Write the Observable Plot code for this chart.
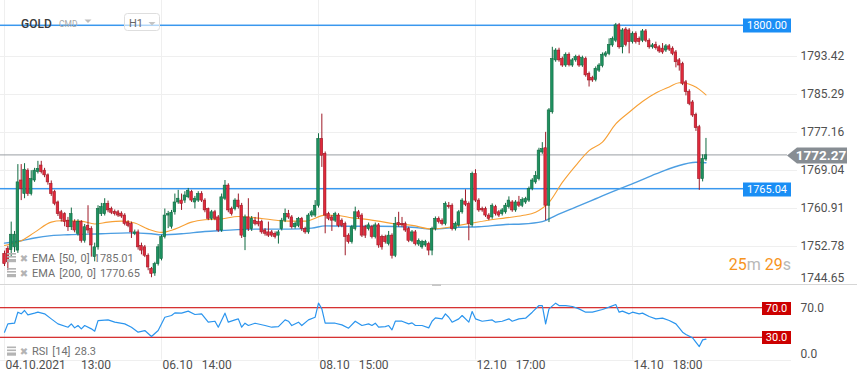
<!DOCTYPE html>
<html><head><meta charset="utf-8">
<script src="https://cdn.jsdelivr.net/npm/d3@7"></script>
<script src="https://cdn.jsdelivr.net/npm/@observablehq/plot@0.6"></script>
<style>
body{margin:0;background:#fff;font-family:Roboto,sans-serif;}
#wrap{position:relative;width:859px;height:385px;overflow:hidden;background:#fff}
#wrap svg{display:block}
</style></head><body><div id="wrap"></div>
<script>
// ---- data (hourly candles, index 0 = 04.10.2021 13:00) ----
const open = [1751.2,1752.3,1752.0,1752.6,1751.9,1766.9,1764.0,1769.0,1764.0,1766.9,1768.7,1770.1,1769.0,1768.0,1766.2,1764.4,1762.2,1760.1,1759.7,1758.3,1756.9,1758.0,1755.5,1758.0,1754.0,1757.2,1756.5,1750.5,1752.6,1759.7,1759.7,1761.9,1760.8,1760.2,1760.1,1759.8,1759.4,1757.9,1757.6,1755.5,1755.8,1752.9,1752.6,1750.8,1748.0,1747.0,1749.0,1750.1,1754.8,1759.4,1757.0,1760.1,1762.2,
1762.6,1762.6,1763.3,1764.4,1762.2,1762.6,1764.0,1762.6,1760.8,1758.7,1760.1,1759.0,1756.2,1763.0,1765.8,1760.8,1760.8,1762.6,1761.5,1754.8,1759.0,1756.5,1758.3,1758.0,1758.0,1756.2,1755.8,1755.8,1755.5,1755.1,1756.5,1758.3,1759.7,1759.0,1756.9,1757.2,1758.7,1756.5,1755.8,1759.4,1759.4,1761.5,1775.8,1772.6,1759.7,1759.0,1758.3,1759.4,1758.3,1757.6,1755.1,
1753.7,1756.5,1760.1,1759.4,1756.9,1756.5,1756.9,1754.8,1757.3,1754.8,1754.8,1753.3,1755.1,1750.8,1757.8,1757.6,1757.6,1756.5,1754.0,1755.8,1753.2,1752.6,1753.0,1753.3,1751.9,1756.5,1758.7,1758.3,1757.6,1761.5,1761.5,1756.5,1757.3,1760.1,1762.4,1761.9,1757.3,1768.3,1762.6,1760.8,1760.8,1759.4,1759.0,1761.2,1760.1,1759.7,1760.1,1761.2,1762.2,1760.5,1762.2,1761.5,
1762.2,1762.6,1765.1,1766.5,1767.2,1772.9,1773.8,1761.5,1781.5,1792.6,1794.7,1792.9,1791.5,1793.8,1791.5,1792.6,1793.3,1791.5,1792.9,1789.7,1788.8,1788.4,1790.4,1791.4,1793.6,1794.0,1795.8,1796.8,1800.1,1795.4,1799.2,1799.0,1796.5,1798.3,1797.2,1796.8,1798.8,1796.8,1795.4,1795.9,1795.4,1795.1,1794.7,1795.6,1795.1,1794.3,1792.6,1791.8,1787.9,1785.9,1783.6,1780.9,1778.3,1767.2,1771.4];
const high = [1751.8,1752.8,1758.0,1756.0,1770.3,1770.3,1770.5,1769.4,1769.0,1769.5,1771.0,1771.0,1769.5,1768.3,1766.8,1764.8,1762.5,1760.5,1760.0,1759.0,1761.0,1758.5,1758.5,1758.3,1757.5,1761.5,1757.0,1753.5,1761.5,1762.0,1763.0,1762.5,1761.2,1760.6,1760.5,1760.2,1759.8,1758.3,1758.0,1756.3,1756.3,1753.5,1753.0,1751.2,1748.3,1749.4,1753.2,1755.2,1760.8,1760.3,1760.5,1764.0,1764.8,
1764.0,1764.5,1765.2,1764.8,1763.5,1764.5,1764.5,1763.0,1761.0,1760.5,1760.5,1759.4,1764.0,1766.9,1766.2,1761.2,1763.0,1764.0,1762.0,1759.5,1763.0,1759.2,1759.0,1760.0,1758.4,1756.6,1758.0,1756.2,1755.9,1756.2,1758.8,1760.8,1760.5,1759.4,1758.0,1759.0,1759.0,1756.9,1759.8,1760.5,1762.6,1776.9,1781.1,1773.0,1760.1,1759.4,1760.1,1759.8,1758.7,1758.0,1755.5,
1757.3,1761.2,1760.5,1759.8,1757.3,1757.8,1757.3,1757.8,1757.7,1755.2,1755.2,1756.0,1755.5,1759.0,1760.1,1759.0,1758.0,1756.9,1756.2,1756.2,1754.4,1754.1,1754.1,1753.7,1756.9,1759.1,1759.1,1758.7,1762.3,1762.2,1761.9,1758.0,1760.5,1763.0,1764.9,1762.3,1768.7,1769.2,1763.0,1761.2,1761.2,1759.8,1761.9,1761.6,1760.5,1760.9,1762.0,1763.4,1762.6,1762.6,1763.5,1763.2,
1763.3,1765.5,1767.3,1768.8,1773.8,1775.0,1777.2,1782.3,1795.4,1795.1,1795.2,1793.3,1794.2,1794.2,1793.0,1793.7,1793.7,1793.5,1793.3,1790.1,1789.2,1791.2,1791.9,1794.2,1794.5,1797.2,1797.6,1800.5,1800.5,1799.4,1799.6,1799.4,1798.7,1798.7,1797.6,1799.2,1799.2,1797.2,1796.2,1796.5,1795.8,1796.2,1796.0,1796.0,1795.5,1794.7,1793.0,1792.2,1788.3,1786.3,1784.0,1781.3,1778.7,1772.4,1775.9];
const low = [1748.5,1747.6,1750.5,1751.5,1751.3,1762.6,1763.0,1763.5,1763.6,1766.5,1768.3,1768.3,1767.5,1765.9,1763.5,1761.5,1759.2,1758.0,1757.0,1756.0,1756.2,1755.7,1755.0,1753.5,1753.5,1755.5,1750.5,1749.5,1752.0,1759.2,1759.3,1760.0,1759.6,1759.3,1759.0,1758.8,1757.2,1756.8,1754.5,1755.1,1752.0,1751.0,1750.4,1747.6,1746.1,1746.4,1748.6,1749.7,1754.4,1756.6,1756.5,1759.5,1761.8,
1760.5,1762.0,1763.0,1762.2,1760.8,1762.2,1762.2,1760.0,1758.3,1758.3,1758.3,1755.8,1755.8,1762.6,1760.0,1759.3,1760.4,1760.8,1754.5,1751.9,1756.0,1756.0,1757.2,1757.0,1755.4,1755.0,1754.7,1754.7,1754.4,1753.3,1756.1,1757.9,1758.6,1756.5,1756.5,1756.8,1756.0,1755.4,1755.4,1759.0,1759.0,1761.0,1769.7,1755.5,1758.3,1756.0,1757.9,1756.8,1756.8,1750.8,1753.3,
1753.3,1756.1,1758.6,1754.7,1754.5,1756.1,1754.4,1754.4,1752.4,1752.0,1753.3,1752.9,1750.1,1750.4,1756.9,1756.9,1755.8,1753.6,1753.6,1752.9,1752.8,1752.2,1752.6,1750.8,1750.8,1756.1,1757.6,1757.2,1757.2,1760.8,1756.1,1756.1,1756.9,1759.7,1761.3,1754.0,1756.9,1762.2,1760.1,1760.1,1759.0,1758.3,1758.6,1759.3,1759.0,1759.3,1759.7,1760.8,1760.1,1760.1,1761.1,1761.1,
1761.8,1762.2,1764.7,1766.1,1766.8,1772.5,1758.3,1757.9,1781.1,1792.2,1792.2,1791.1,1791.1,1791.2,1791.1,1792.2,1791.1,1791.1,1789.0,1786.9,1787.9,1788.0,1790.0,1791.0,1793.2,1793.6,1795.4,1796.4,1795.0,1794.0,1795.5,1794.0,1796.1,1796.1,1795.8,1796.4,1796.4,1795.0,1795.0,1794.8,1794.1,1793.9,1794.3,1794.5,1793.6,1791.0,1790.3,1787.2,1785.0,1782.9,1780.4,1777.4,1764.8,1766.6,1771.0];
const close = [1749.0,1749.4,1755.3,1755.3,1766.5,1765.1,1769.2,1764.0,1767.2,1769.0,1769.4,1768.7,1768.0,1766.5,1764.0,1761.9,1759.7,1758.7,1758.0,1756.9,1759.7,1756.2,1758.0,1754.0,1756.9,1756.2,1753.0,1752.6,1760.8,1761.2,1761.9,1760.5,1760.0,1759.7,1759.4,1759.2,1757.6,1757.2,1755.8,1755.8,1752.6,1751.9,1750.8,1748.3,1746.9,1749.0,1752.6,1754.8,1759.4,1759.7,1760.0,1762.2,1763.0,
1761.9,1763.7,1764.7,1762.6,1763.0,1764.0,1762.6,1760.5,1758.7,1760.1,1758.7,1756.2,1763.3,1765.8,1760.5,1759.7,1762.6,1761.2,1755.1,1759.0,1756.5,1758.7,1757.6,1757.5,1755.8,1755.5,1755.1,1755.1,1754.8,1755.8,1758.3,1759.7,1759.0,1756.9,1757.6,1758.7,1756.5,1755.8,1759.4,1760.1,1761.5,1775.8,1772.2,1759.4,1758.7,1758.3,1759.7,1757.2,1757.2,1754.8,1753.7,
1756.9,1760.1,1759.0,1755.1,1755.1,1757.3,1754.8,1757.3,1753.0,1752.6,1753.7,1755.1,1750.8,1757.6,1757.3,1757.3,1756.2,1754.0,1755.8,1753.3,1754.0,1753.7,1753.7,1751.9,1756.5,1758.7,1758.0,1757.6,1761.9,1761.2,1756.5,1757.6,1760.1,1762.6,1761.7,1757.6,1768.3,1762.6,1760.5,1760.5,1759.4,1758.7,1761.5,1759.7,1759.4,1760.5,1761.5,1762.6,1760.5,1762.2,1761.5,1762.7,
1762.9,1765.1,1766.9,1767.9,1773.3,1773.6,1761.5,1781.9,1792.9,1794.7,1792.6,1791.5,1793.8,1791.6,1792.6,1793.3,1791.5,1793.1,1789.4,1788.3,1788.3,1790.8,1791.5,1793.8,1794.1,1795.9,1797.2,1800.1,1795.4,1799.0,1795.9,1796.5,1798.3,1796.5,1796.5,1798.8,1796.8,1795.4,1795.8,1795.2,1794.5,1794.3,1795.6,1794.9,1794.0,1792.2,1791.5,1787.6,1785.8,1783.3,1780.8,1778.1,1767.2,1771.5,1772.3];

// EMA readings (candle index, value)
const ema50Idx = [0,5,9,14,17,23,27,31,35,39,43,47,51,56,60,65,70,75,80,85,90,96,100,104,107,112,117,122,128,132,136,140,144,150,155,159,163,167,171,175,179,183,187,191,195,199,202,204,206,208,210];
const ema50Val = [1753.0,1754.0,1755.8,1758.0,1758.3,1758.2,1757.6,1758.0,1758.2,1757.8,1756.5,1755.8,1756.5,1758.0,1758.5,1758.7,1759.2,1758.9,1758.5,1758.2,1758.2,1759.5,1759.4,1758.9,1758.7,1758.2,1757.6,1757.3,1756.5,1756.8,1757.3,1757.8,1758.3,1758.9,1759.4,1760.1,1762.2,1766.5,1770.1,1773.3,1775.1,1779.0,1781.5,1783.8,1785.6,1786.9,1787.8,1787.7,1787.2,1786.4,1785.2];
const ema200Idx = [0,5,9,14,19,29,37,44,47,53,60,65,75,85,92,96,104,112,122,128,136,142,150,155,161,165,171,177,183,189,195,201,207,210];
const ema200Val = [1753.5,1754.0,1754.6,1755.1,1755.3,1755.5,1755.7,1755.5,1755.3,1755.5,1756.0,1756.2,1756.5,1756.5,1756.7,1757.2,1757.1,1757.1,1756.9,1756.5,1756.9,1757.0,1757.5,1757.6,1758.1,1759.4,1761.2,1763.0,1764.8,1766.5,1768.3,1769.9,1770.8,1770.7];

// RSI readings (candle index, value)
const rsiIdx = [0,1,3,4,5,6,7,9,10,12,14,16,19,20,21,22,23,24,26,27,28,31,33,36,38,40,42,44,46,48,50,51,53,55,57,59,61,63,64,66,67,69,70,71,72,73,75,78,80,82,84,85,86,88,89,91,93,94,95,96,99,101,103,105,107,109,110,111,112,114,115,116,117,119,121,122,123,125,127,128,129,131,132,133,134,136,137,139,140,141,143,146,147,149,151,152,154,156,158,160,161,162,163,165,166,168,170,172,174,176,179,181,183,184,185,187,188,190,191,193,195,197,199,201,203,204,206,208,209,210];
const rsiVal = [37.6,48.8,49.7,64.6,62.4,66.9,61.0,63.3,64.6,62.4,55.6,48.8,44.3,48.8,43.4,46.6,42.1,46.6,42.1,38.9,53.3,54.2,51.1,48.8,44.3,37.6,39.8,31.7,39.8,57.8,60.1,63.7,63.3,66.0,61.5,62.4,51.1,52.4,44.3,63.3,51.1,54.2,55.6,44.3,49.7,46.6,49.7,46.6,44.3,45.2,54.2,52.4,46.6,51.1,46.6,54.2,57.8,76.8,69.1,49.7,49.7,47.5,43.0,52.4,46.6,48.8,46.6,49.7,44.3,45.2,46.6,40.7,52.4,52.4,48.8,50.2,46.6,46.6,43.4,52.4,56.9,55.6,62.4,57.8,51.1,55.6,60.1,51.1,65.5,55.6,52.4,54.2,51.1,52.4,55.6,52.4,55.6,56.5,64.6,73.6,73.6,48.8,69.1,76.8,73.6,73.6,72.3,69.1,64.6,64.6,68.2,71.4,75.0,64.6,66.0,62.4,64.6,62.4,63.3,58.8,55.6,56.5,53.3,48.8,37.6,34.4,29.9,18.2,27.2,28.3];

// axes / levels / labels
const priceTicks = [1793.42,1785.29,1777.16,1769.04,1760.91,1752.78];
const priceBottom = 1744.65;
const timeTickIdx = [0,47,94,141,188];
const timeTickLabels = ["04.10.2021\u2003 13:00","06.10\u2002 14:00","08.10\u2002 15:00","12.10\u2002 17:00","14.10\u2002 18:00"];
const levelHigh = 1800.00, levelLow = 1765.04, lastPrice = 1772.27;
const rsiLevels = [70, 30];
const rsiLast = 28.3, ema50Last = 1785.01, ema200Last = 1770.65;
const symbol = "GOLD", market = "CMD", timeframe = "H1";
const timerMin = "25", timerSec = "29";

// ---- build ----
const candles = close.map((c, i) => ({i, o: open[i], c, h: Math.max(high[i], open[i], c), l: Math.min(low[i], open[i], c), up: c >= open[i]}));
const ema50 = ema50Idx.map((i, k) => ({i, v: ema50Val[k]}));
const ema200 = ema200Idx.map((i, k) => ({i, v: ema200Val[k]}));
const rsi = rsiIdx.map((i, k) => ({i, v: rsiVal[k]}));

const W = 859, MR = 62;
const xDomain = [-1.2, 237.4];
const GREEN = "#1e9160", GREEN_D = "#0f6a40", RED = "#e0293b", RED_D = "#9e1a27";
const BLUE = "#3a98ee", GRID = "#efefef";
const FONT = "Roboto, sans-serif";

const fmark = (fn) => (index, scales, values, dims) => { const g = d3.create("svg:g").attr("text-anchor", "start"); fn(g, scales, dims); return g.node(); };

function levelLine(v, color, xEnd, w = 1.5) {
  return fmark((g, s) => {
    const y = s.y(v);
    g.append("rect").attr("x", 0).attr("width", xEnd).attr("y", y - w / 2).attr("height", w).attr("fill", color);
  });
}
function boxTag(v, label, fill, x0, w, h, fs) {
  return fmark((g, s) => {
    const y = Math.round(s.y(v)) + 0.5;
    g.append("rect").attr("x", x0).attr("y", y - h / 2).attr("width", w).attr("height", h).attr("fill", fill);
    g.append("text").attr("x", x0 + w / 2).attr("y", y).attr("dy", "0.36em").attr("text-anchor", "middle")
      .attr("fill", "#fff").attr("font-size", fs).attr("font-family", FONT).text(label);
  });
}
function legendRow(g, y, parts) {
  const ic = g.append("g").attr("fill", "#b4b4b4");
  ic.append("rect").attr("x", 7).attr("y", y - 5).attr("width", 9).attr("height", 1.6);
  ic.append("rect").attr("x", 7).attr("y", y - 2).attr("width", 9).attr("height", 1.6);
  ic.append("rect").attr("x", 7).attr("y", y + 1).attr("width", 9).attr("height", 3.2);
  g.append("text").attr("x", 24).attr("y", y).attr("dy", "0.36em").attr("text-anchor", "middle").attr("fill", "#b4b4b4")
    .attr("font-size", 10).attr("font-weight", "bold").attr("font-family", "DejaVu Sans, sans-serif").text("\u2716");
  const t = g.append("text").attr("x", 32).attr("y", y).attr("dy", "0.36em").attr("text-anchor", "start").attr("fill", "#707070")
    .attr("font-size", 11).attr("font-family", FONT);
  parts.forEach((p, k) => t.append("tspan").attr("dx", k ? 4 : 0).text(p));
}

const main = Plot.plot({
  width: W, height: 284,
  marginLeft: 0, marginRight: MR, marginTop: 0, marginBottom: 0,
  x: {domain: xDomain, axis: null},
  y: {domain: [1744.65, 1805.41], axis: null},
  style: {fontFamily: FONT, fontSize: "12px", background: "transparent"},
  marks: [
    Plot.ruleY(priceTicks, {stroke: GRID}),
    Plot.ruleX(timeTickIdx, {stroke: GRID}),
    levelLine(levelHigh, BLUE, 743),
    levelLine(levelLow, BLUE, 743),
    levelLine(lastPrice, "#9a9ea3", 787, 1),
    Plot.line(ema200, {x: "i", y: "v", stroke: "#4c9ee2", strokeWidth: 1.4, curve: "monotone-x"}),
    Plot.line(ema50, {x: "i", y: "v", stroke: "#f7a035", strokeWidth: 1.1, curve: "monotone-x"}),
    Plot.ruleX(candles.filter(d => d.up), {x: "i", y1: "l", y2: "h", stroke: GREEN_D, strokeWidth: 1}),
    Plot.ruleX(candles.filter(d => !d.up), {x: "i", y1: "l", y2: "h", stroke: RED_D, strokeWidth: 1}),
    Plot.rect(candles.filter(d => d.up), {x1: d => d.i - 0.38, x2: d => d.i + 0.38, y1: "o", y2: "c", fill: GREEN, stroke: GREEN_D, strokeWidth: 0.6, inset: 0}),
    Plot.rect(candles.filter(d => !d.up), {x1: d => d.i - 0.38, x2: d => d.i + 0.38, y1: "o", y2: "c", fill: RED, stroke: RED_D, strokeWidth: 0.6, inset: 0}),
    boxTag(levelHigh, levelHigh.toFixed(2), "#1a8ef5", 743, 48, 14, 11),
    boxTag(levelLow, levelLow.toFixed(2), "#1a8ef5", 743, 48, 14, 11),
    fmark((g, s) => {
      const y = Math.round(s.y(lastPrice)) + 0.5;
      g.append("path").attr("d", `M787,${y} L797,${y - 8} L847,${y - 8} L847,${y + 8} L797,${y + 8} Z`).attr("fill", "#878d93");
      g.append("text").attr("x", 821).attr("y", y).attr("dy", "0.36em").attr("text-anchor", "middle").attr("fill", "#fff")
        .attr("font-size", 13.5).attr("font-weight", "bold").attr("font-family", FONT).text(lastPrice.toFixed(2));
    }),
    Plot.text(priceTicks, {y: d => d, text: d => d.toFixed(2), frameAnchor: "right", textAnchor: "start", dx: 3, fontSize: 12, fill: "#505050"}),
    Plot.text([priceBottom], {y: d => d, text: d => d.toFixed(2), frameAnchor: "right", textAnchor: "start", dx: 3, dy: -6, fontSize: 12, fill: "#505050"}),
    // timer
    fmark((g) => {
      const t = g.append("text").attr("x", 791).attr("y", 264).attr("dy", "0.36em").attr("text-anchor", "end")
        .attr("font-size", 16).attr("font-family", FONT);
      t.append("tspan").attr("fill", "#f7941d").text(timerMin);
      t.append("tspan").attr("fill", "#b8b8b8").text("m ");
      t.append("tspan").attr("fill", "#f7941d").text(timerSec);
      t.append("tspan").attr("fill", "#b8b8b8").text("s");
    }),
    // legend
    fmark((g) => {
      legendRow(g, 258, ["EMA", "[50,", "0]", ema50Last.toFixed(2)]);
      legendRow(g, 273, ["EMA", "[200,", "0]", ema200Last.toFixed(2)]);
    }),
    // header
    fmark((g) => {
      g.append("text").attr("x", 21).attr("y", 23.5).attr("dy", "0.36em").attr("fill", "#3a3a3a").attr("font-size", 12)
        .attr("font-weight", 500).attr("font-family", FONT).text(symbol);
      g.append("text").attr("x", 59).attr("y", 23.5).attr("dy", "0.36em").attr("fill", "#a8a8a8").attr("font-size", 8.5)
        .attr("font-family", FONT).text(market);
      g.append("path").attr("d", "M84.5,19.5 L91.5,19.5 L88,23 Z").attr("fill", "#bdbdbd");
      g.append("rect").attr("x", 124.5).attr("y", 13.5).attr("width", 35).attr("height", 17).attr("rx", 3)
        .attr("fill", "rgba(255,255,255,0.6)").attr("stroke", "#dedede");
      g.append("text").attr("x", 129).attr("y", 23).attr("dy", "0.36em").attr("fill", "#666").attr("font-size", 11)
        .attr("font-family", FONT).text(timeframe);
      g.append("path").attr("d", "M148.5,22 L155.5,22 L152,25.5 Z").attr("fill", "#c4c4c4");
    })
  ]
});

const rsiPlot = Plot.plot({
  width: W, height: 101,
  marginLeft: 0, marginRight: MR, marginTop: 1.5, marginBottom: 25.5,
  x: {domain: xDomain, axis: null},
  y: {domain: [0, 100], axis: null},
  style: {fontFamily: FONT, fontSize: "12px", background: "transparent"},
  marks: [
    Plot.ruleX(timeTickIdx, {stroke: GRID, y1: 0, y2: 100}),
    fmark((g, s) => {
      const y = Math.round(s.y(0)) + 0.5;
      g.append("line").attr("x1", 0).attr("x2", 791).attr("y1", y).attr("y2", y).attr("stroke", GRID);
      g.append("line").attr("x1", 0).attr("x2", 857).attr("y1", 0.5).attr("y2", 0.5).attr("stroke", "#d6d6d6");
      g.append("rect").attr("x", 432).attr("y", 0).attr("width", 9).attr("height", 2).attr("fill", "#c8c8c8");
    }),
    ...rsiLevels.map(v => levelLine(v, "#d01010", 762, 1.1)),
    Plot.line(rsi, {x: "i", y: "v", stroke: "#2b95ee", strokeWidth: 1.2}),
    ...rsiLevels.map(v => boxTag(v, v.toFixed(1), "#cc0000", 762, 29, 13, 11)),
    Plot.text([70], {y: d => d, text: d => d.toFixed(1), frameAnchor: "right", textAnchor: "start", dx: 3, fontSize: 12, fill: "#505050"}),
    Plot.text([0], {y: d => d, text: d => d.toFixed(1), frameAnchor: "right", textAnchor: "start", dx: 3, dy: -5.5, fontSize: 12, fill: "#505050"}),
    Plot.text(timeTickIdx, {x: d => d, text: (d, i) => timeTickLabels[i], frameAnchor: "bottom", textAnchor: "start", dx: 1, dy: 8.5, fontSize: 12, fill: "#505050"}),
    fmark((g) => { legendRow(g, 351.5 - 284, ["RSI", "[14]", rsiLast.toFixed(1)]); })
  ]
});

const wrap = document.getElementById("wrap");
wrap.appendChild(main);
wrap.appendChild(rsiPlot);
</script>
</body></html>
